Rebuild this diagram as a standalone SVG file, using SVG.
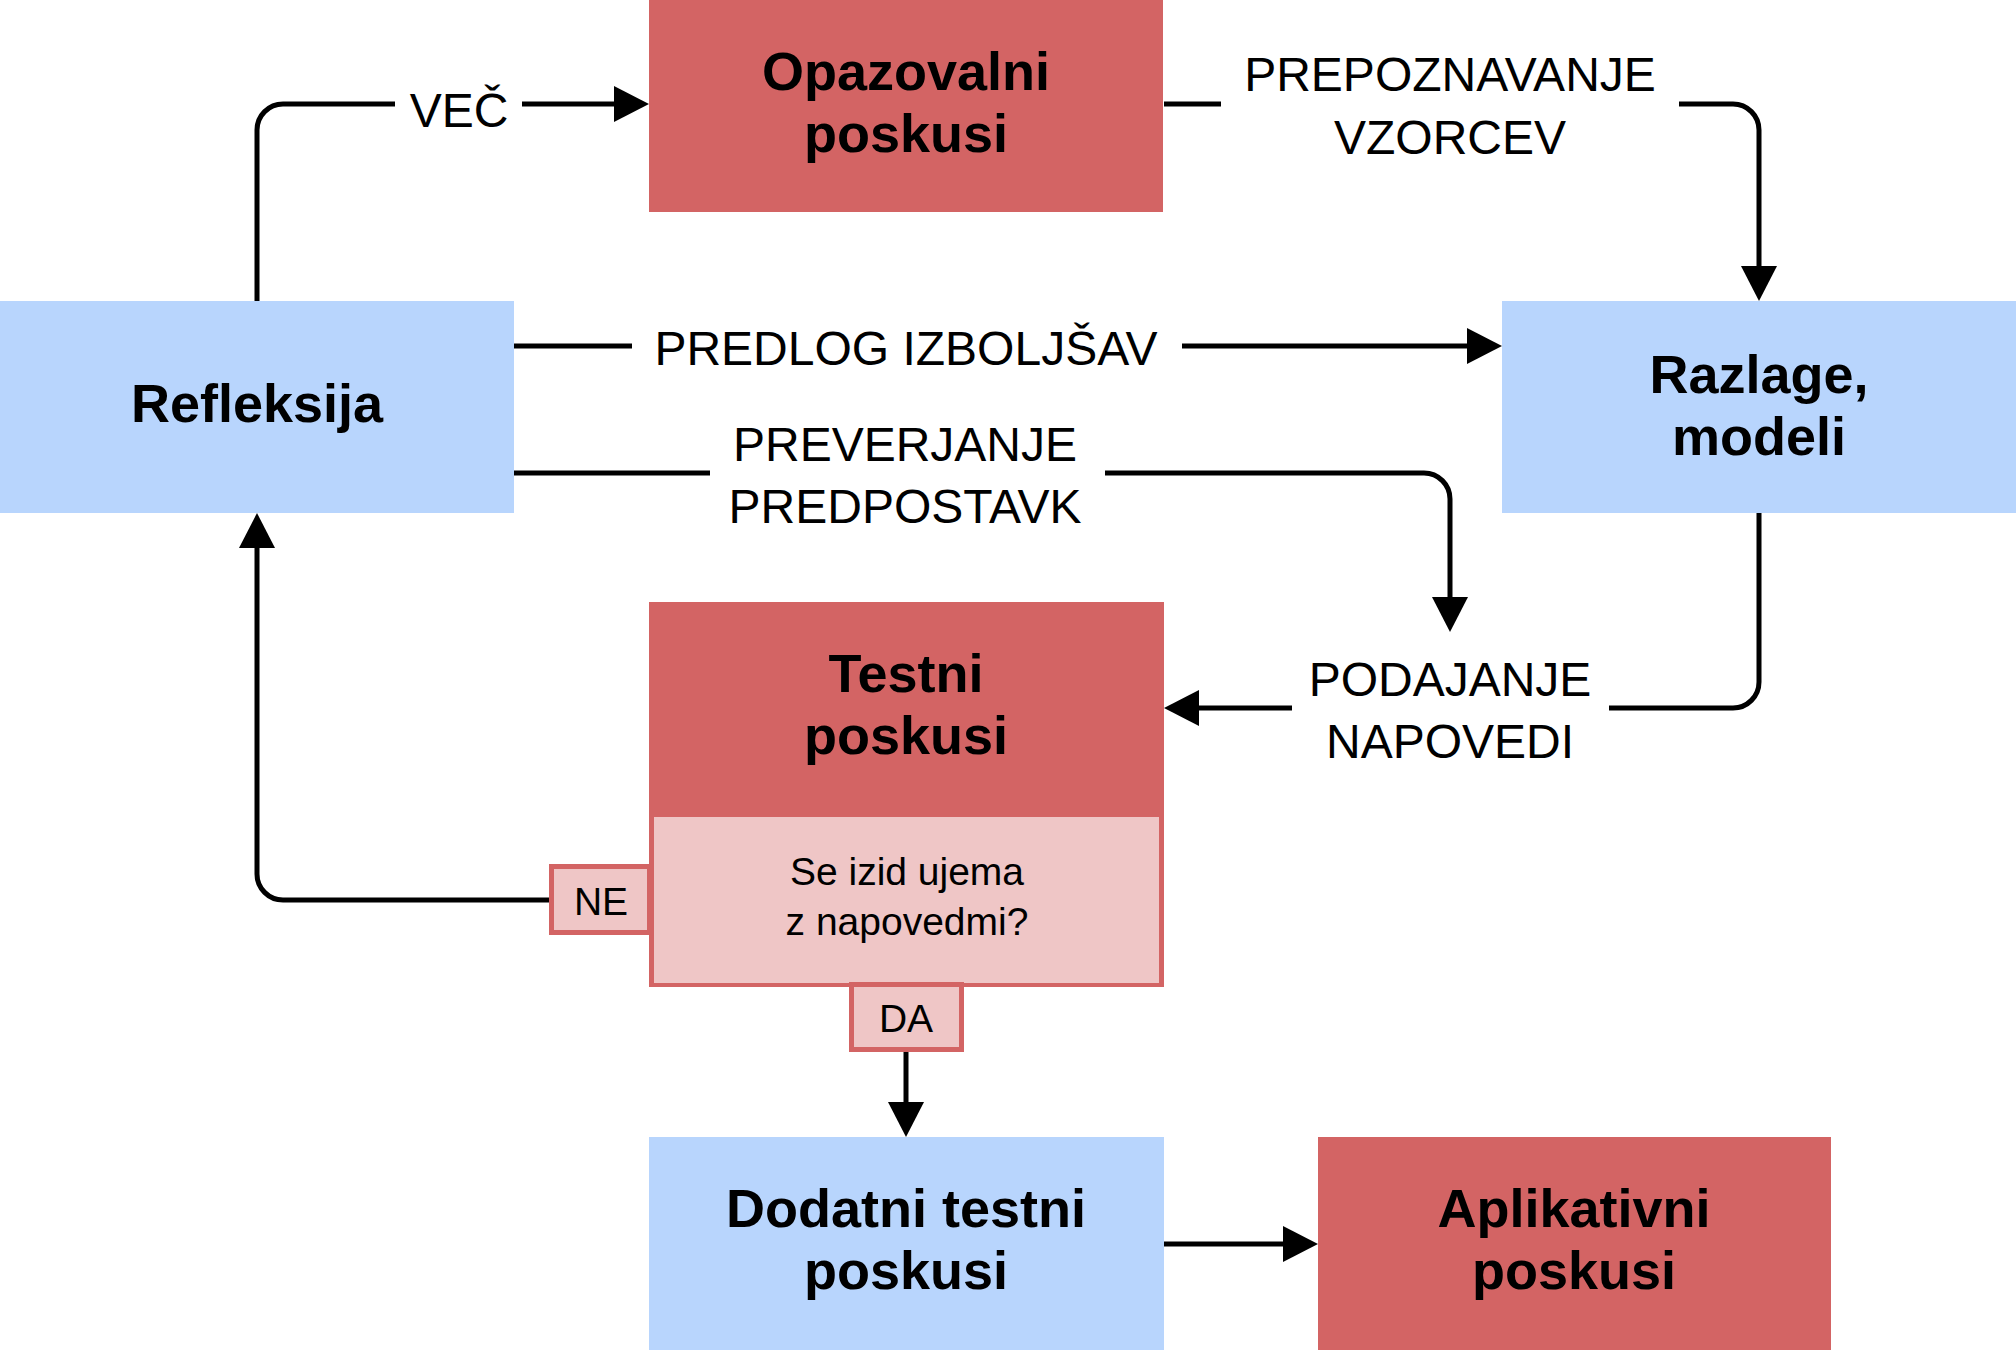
<svg xmlns="http://www.w3.org/2000/svg" width="2016" height="1350" viewBox="0 0 2016 1350">
<style>
.red{fill:#d36464}
.blue{fill:#b8d5fd}
.pink{fill:#efc6c6}
.tag{fill:#efc6c6;stroke:#d36464;stroke-width:5}
.b{font-family:"Liberation Sans",Arial,Helvetica,sans-serif;font-weight:bold;font-size:54px;text-anchor:middle;fill:#000}
.l{font-family:"Liberation Sans",Arial,Helvetica,sans-serif;font-size:48px;text-anchor:middle;fill:#000}
.s{font-family:"Liberation Sans",Arial,Helvetica,sans-serif;font-size:39px;text-anchor:middle;fill:#000}
.c{fill:none;stroke:#000;stroke-width:5}
</style>
<defs>
<marker id="ah" markerUnits="userSpaceOnUse" markerWidth="36" markerHeight="36" refX="2" refY="18" orient="auto">
<path d="M0,0 L35,18 L0,36 z" fill="#000"/>
</marker>
</defs>
<rect width="2016" height="1350" fill="#fff"/>

<g id="connectors">
<path class="c" d="M257,301 V130 A26,26 0 0 1 283,104 H395 M522,104 H616" marker-end="url(#ah)"/>
<path class="c" d="M1164,104 H1221 M1679,104 H1733 A26,26 0 0 1 1759,130 V268" marker-end="url(#ah)"/>
<path class="c" d="M514,346 H632 M1182,346 H1469" marker-end="url(#ah)"/>
<path class="c" d="M514,473 H710 M1105,473 H1424 A26,26 0 0 1 1450,499 V599" marker-end="url(#ah)"/>
<path class="c" d="M1759,513 V682 A26,26 0 0 1 1733,708 H1609 M1292,708 H1197" marker-end="url(#ah)"/>
<path class="c" d="M549,900 H283 A26,26 0 0 1 257,874 V546" marker-end="url(#ah)"/>
<path class="c" d="M906,1052 V1104" marker-end="url(#ah)"/>
<path class="c" d="M1164,1244 H1285" marker-end="url(#ah)"/>
<text class="l" x="459" y="127">VEČ</text>
<text class="l" x="1450" y="91">PREPOZNAVANJE</text>
<text class="l" x="1450" y="154">VZORCEV</text>
<text class="l" x="906" y="365">PREDLOG IZBOLJŠAV</text>
<text class="l" x="905" y="461">PREVERJANJE</text>
<text class="l" x="905" y="523">PREDPOSTAVK</text>
<text class="l" x="1450" y="696">PODAJANJE</text>
<text class="l" x="1450" y="758">NAPOVEDI</text>
</g>

<g id="opazovalni">
<rect class="red" x="649" y="0" width="514" height="212"/>
<text class="b" x="906" y="90">Opazovalni</text>
<text class="b" x="906" y="152">poskusi</text>
</g>

<g id="refleksija">
<rect class="blue" x="0" y="301" width="514" height="212"/>
<text class="b" x="257" y="422">Refleksija</text>
</g>

<g id="razlage">
<rect class="blue" x="1502" y="301" width="514" height="212"/>
<text class="b" x="1759" y="393">Razlage,</text>
<text class="b" x="1759" y="455">modeli</text>
</g>

<g id="testni">
<rect class="red" x="649" y="602" width="515" height="385"/>
<rect class="pink" x="654" y="817" width="505" height="166"/>
<text class="b" x="906" y="692">Testni</text>
<text class="b" x="906" y="754">poskusi</text>
<text class="s" x="907" y="885">Se izid ujema</text>
<text class="s" x="907" y="935">z napovedmi?</text>
</g>

<g id="ne">
<rect class="tag" x="551.5" y="866.5" width="98" height="66"/>
<text class="s" x="601" y="915">NE</text>
</g>

<g id="da">
<rect class="tag" x="851.5" y="984.5" width="110" height="65"/>
<text class="s" x="906" y="1032">DA</text>
</g>

<g id="dodatni">
<rect class="blue" x="649" y="1137" width="515" height="213"/>
<text class="b" x="906" y="1227">Dodatni testni</text>
<text class="b" x="906" y="1289">poskusi</text>
</g>

<g id="aplikativni">
<rect class="red" x="1318" y="1137" width="513" height="213"/>
<text class="b" x="1574" y="1227">Aplikativni</text>
<text class="b" x="1574" y="1289">poskusi</text>
</g>
</svg>
